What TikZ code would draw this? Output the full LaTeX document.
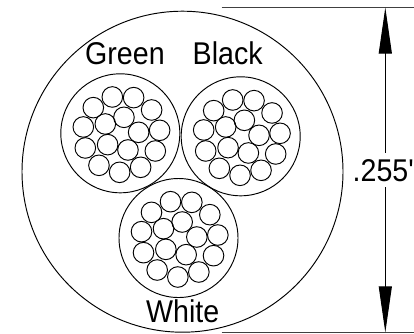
\documentclass[tikz,border=0pt]{standalone}
\usepackage{fontspec}
\usepackage{graphicx}
\newfontfamily\labelfont{Liberation Sans}
\usetikzlibrary{arrows.meta}
\newcommand{\tall}[1]{\scalebox{1}[1.1]{#1}}
\tikzset{
  wire/.style={draw=black,line width=0.95pt},
  strandwire/.style={draw=black,line width=0.95pt},
  label/.style={anchor=base west,inner sep=0pt,font=\labelfont\fontsize{28.6}{28.6}\selectfont},
  extline/.style={draw=black!75,line width=1pt},
  dimline/.style={draw=black,line width=1pt,-{Triangle[length=46pt,width=13pt,fill=black]}},
  pics/bundle/.style={code={
    \path[wire] (0,0) circle (59.5);
    \foreach \sx/\sy in {-24/-109,40/-107,-81/-77,94/-70,11/-48,-111/-19,-45/-28,118/-9,55/-3,-105/44,-38/34,23/50,105/53,-64/96,61/102,-2/117}
      \path[strandwire] (\sx/3,\sy/3) circle (10.3);
  }}
}
\begin{document}
\begin{tikzpicture}[x=1pt,y=-1pt]
\useasboundingbox (0,0) rectangle (414,333);
\path[wire] (182.5,171.7) circle (160.5);
\pic at (120.3,133.3) {bundle};
\pic at (240.7,136.3) {bundle};
\pic at (178.5,238) {bundle};
\node[label] (green) at (85,64.3) {\tall{Green}};
\node[label] (black) at (192.5,64.3) {\tall{Black}};
\node[label] (white) at (146,322.3) {\tall{White}};
\node[label] (dim) at (352.5,181.7) {\tall{.255'}};
\coordinate (topL) at (221.7,7.5);
\coordinate (topR) at (414,7.5);
\coordinate (botL) at (221.7,332.4);
\coordinate (botR) at (414,332.4);
\coordinate (tipT) at (385.3,7.5);
\coordinate (tipB) at (385.3,332.4);
\coordinate (gapT) at (385.3,152.7);
\coordinate (gapB) at (385.3,187);
\draw[extline] (topL) -- (topR);
\draw[extline] (botL) -- (botR);
\draw[dimline] (gapT) -- (tipT);
\draw[dimline] (gapB) -- (tipB);
\end{tikzpicture}
\end{document}
